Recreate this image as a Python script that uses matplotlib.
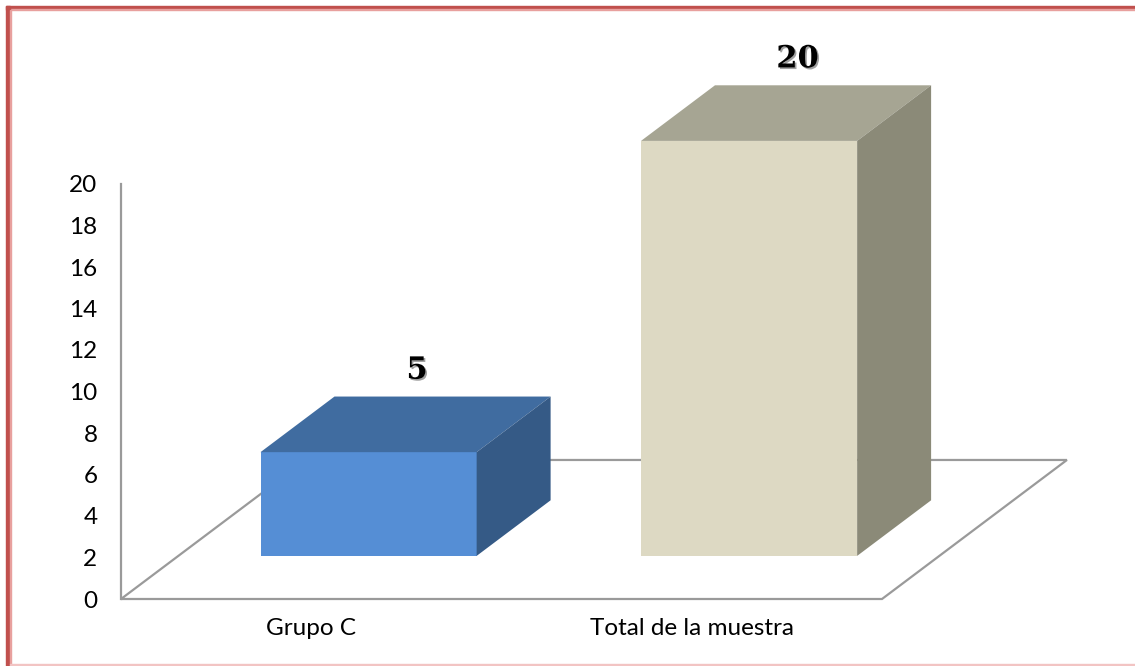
import matplotlib.pyplot as plt
import matplotlib.patheffects as pe
from matplotlib.patches import Polygon, Rectangle

# datos
categorias = ['Grupo C', 'Total de la muestra']
valores = [5, 20]
ticks_y = list(range(0, 21, 2))

# colores de cada barra: frente, tapa, lado
frente = ['#558ED5', '#DDD9C3']
tapa = ['#406CA0', '#A6A593']
lado = ['#355A86', '#8B8A78']

W, H = 1135, 666
fig = plt.figure(figsize=(W / 100, H / 100), dpi=100)
fig.patch.set_facecolor('white')
ax = fig.add_axes([121 / W, 1 - 599 / H, 761 / W, 415 / H])
ax.set_xlim(0, len(categorias))
ax.set_ylim(0, 20)

# profundidad del piso (en unidades de datos)
DX, DY = 0.486, 6.70
f0, d = 0.31, 0.40   # inicio y fondo de las barras
ancho = 0.568

gris = '#9A9A9A'
piso = Polygon([(0, 0), (len(categorias), 0),
                (len(categorias) + DX, DY), (DX, DY)],
               closed=True, fill=False, edgecolor=gris, lw=1.6,
               clip_on=False, zorder=1)
ax.add_patch(piso)

for i, v in enumerate(valores):
    c = i + 0.5
    x0 = c - ancho / 2 + f0 * DX
    x1 = x0 + ancho
    y0 = f0 * DY
    y1 = y0 + v
    ox, oy = d * DX, d * DY
    # frente
    ax.add_patch(Polygon([(x0, y0), (x1, y0), (x1, y1), (x0, y1)],
                         closed=True, facecolor=frente[i], edgecolor='none',
                         clip_on=False, zorder=3))
    # tapa
    ax.add_patch(Polygon([(x0, y1), (x1, y1), (x1 + ox, y1 + oy), (x0 + ox, y1 + oy)],
                         closed=True, facecolor=tapa[i], edgecolor='none',
                         clip_on=False, zorder=3))
    # lado
    ax.add_patch(Polygon([(x1, y0), (x1 + ox, y0 + oy), (x1 + ox, y1 + oy), (x1, y1)],
                         closed=True, facecolor=lado[i], edgecolor='none',
                         clip_on=False, zorder=3))
    # etiqueta de valor
    ax.annotate(str(v), xy=((x0 + x1) / 2 + ox / 2 + 0.03, y1 + oy),
                xytext=(0, 19), textcoords='offset points',
                ha='center', va='center', fontsize=22, fontweight='bold',
                family='DejaVu Serif', color='black', zorder=5,
                annotation_clip=False,
                path_effects=[pe.withSimplePatchShadow(offset=(1.2, -1.2),
                                                       shadow_rgbFace='#888888',
                                                       alpha=0.8)])

for s in ['top', 'right', 'bottom']:
    ax.spines[s].set_visible(False)
ax.spines['left'].set_color(gris)
ax.spines['left'].set_linewidth(1.6)

ax.set_yticks(ticks_y)
ax.set_yticklabels([str(t) for t in ticks_y])
ax.set_xticks([i + 0.5 for i in range(len(categorias))])
ax.set_xticklabels(categorias)
ax.tick_params(axis='y', length=0, pad=17, labelsize=17.5)
ax.tick_params(axis='x', length=0, pad=14, labelsize=17.5)
for lab in ax.get_xticklabels() + ax.get_yticklabels():
    lab.set_family('Lato')
ax.set_facecolor('none')

# marco rojo de la página
rojo = '#C0504D'
fig.patches.append(Rectangle((6 / W, 1 - 9 / H), 1 - 6 / W, 3 / H,
                             transform=fig.transFigure, color=rojo, zorder=0))
fig.patches.append(Rectangle((6 / W, 1 - 10 / H), 1 - 6 / W, 1 / H,
                             transform=fig.transFigure, color='#E8A09E', zorder=0))
fig.patches.append(Rectangle((6 / W, 0), 4 / W, 1 - 6 / H,
                             transform=fig.transFigure, color=rojo, zorder=0))
fig.patches.append(Rectangle((10 / W, 0), 1 / W, 1 - 10 / H,
                             transform=fig.transFigure, color='#E8A09E', zorder=0))
fig.patches.append(Rectangle((10 / W, 1 / H), 1 - 10 / W, 1 / H,
                             transform=fig.transFigure, color='#F2C4C3', zorder=0))

fig.savefig('out.png', dpi=100)
